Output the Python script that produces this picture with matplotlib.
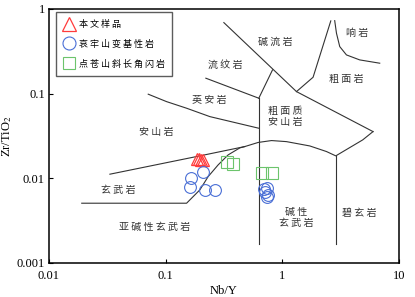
import numpy as np
import matplotlib
matplotlib.use('Agg')
import matplotlib.pyplot as plt

plt.rcParams['font.family'] = ['Liberation Serif', 'DejaVu Serif']
plt.rcParams['mathtext.fontset'] = 'stix'

# 样品数据 (Nb/Y, Zr/TiO2)
tri_x = [0.185, 0.195, 0.201, 0.209]
tri_y = [0.0167, 0.0169, 0.0165, 0.0166]

cir_x = [0.165, 0.209, 0.162, 0.217, 0.265, 0.734, 0.710, 0.757, 0.734, 0.700]
cir_y = [0.0101, 0.0119, 0.0079, 0.0073, 0.0073, 0.00764, 0.00697, 0.00637, 0.00608, 0.0074]

sq_x = [0.333, 0.380, 0.665, 0.810]
sq_y = [0.01575, 0.0148, 0.0115, 0.0115]

legend_names = ['本文样品', '哀牢山变基性岩', '点苍山斜长角闪岩']

# 分区边界 (Winchester & Floyd, 1977)
bounds = [
    # 亚碱性玄武岩 / 碱性玄武岩
    ([0.0191, 0.1514, 0.1967, 0.2317, 0.2823, 0.344, 0.433, 0.478],
     [0.00508, 0.00508, 0.0073, 0.01047, 0.0144, 0.0189, 0.02285, 0.0237]),
    # 安山岩 / 玄武岩 -> 粗面质安山岩 / 碱性玄武岩
    ([0.0333, 0.1967, 0.478, 0.622, 0.81, 1.088, 1.724, 2.397, 2.88, 4.90, 6.01],
     [0.01118, 0.0184, 0.0237, 0.0265, 0.0279, 0.0271, 0.0241, 0.0207, 0.0184, 0.0284, 0.0356]),
    # 粗面质安山岩 / 粗面岩 -> 碱流岩
    ([6.01, 1.326, 0.316], [0.0356, 0.1056, 0.689]),
    # 碧玄岩 / 碱性玄武岩
    ([2.88, 2.88], [0.0184, 0.00168]),
    # 碱性玄武岩 / 亚碱性玄武岩
    ([0.63, 0.63], [0.0882, 0.00168]),
    # 粗面岩 / 碱流岩
    ([1.326, 1.84, 2.61], [0.1056, 0.156, 0.722]),
    # 响岩
    ([2.82, 2.92, 3.115, 3.556, 4.62, 6.86], [0.727, 0.5165, 0.3589, 0.2863, 0.250, 0.2285]),
    # 粗面质安山岩 / 流纹岩
    ([0.826, 0.63], [0.1905, 0.0882]),
    # 流纹岩 / 英安岩
    ([0.2215, 0.63], [0.152, 0.0882]),
    # 英安岩 / 安山岩
    ([0.071, 0.102, 0.1514, 0.2397, 0.63], [0.0984, 0.0804, 0.0672, 0.0535, 0.039]),
]

labels = [
    ('碱流岩', 0.864, 0.407), ('响岩', 4.36, 0.516), ('流纹岩', 0.322, 0.218),
    ('粗面岩', 3.556, 0.148), ('英安岩', 0.235, 0.0842), ('粗面质\n安山岩', 1.053, 0.0531),
    ('安山岩', 0.0837, 0.0356), ('玄武岩', 0.039, 0.0073), ('亚碱性玄武岩', 0.081, 0.00269),
    ('碱性\n玄武岩', 1.326, 0.00345), ('碧玄岩', 4.56, 0.00387),
]


def spaced(s):
    # 字间留空, 模仿原图的字距
    return '\n'.join(' '.join(line) for line in s.split('\n'))


fig = plt.figure(figsize=(4.15, 2.97), dpi=100)
ax = fig.add_axes([0.118, 0.1145, 0.843, 0.8555])
ax.set_xscale('log')
ax.set_yscale('log')
ax.set_xlim(0.01, 10)
ax.set_ylim(0.001, 1)

for bx, by in bounds:
    ax.plot(bx, by, color='#333333', lw=0.8, zorder=2)

cjk = ['Noto Sans CJK SC', 'DejaVu Sans']
for txt, lx, ly in labels:
    ax.text(lx, ly, spaced(txt), family=cjk, fontsize=7.2, color='#333333',
            ha='center', va='center', linespacing=1.1)

ax.plot(tri_x, tri_y, ls='none', marker='^', ms=9, mfc='none', mec='#ff3b3b',
        mew=0.9, label=spaced(legend_names[0]), zorder=3)
ax.plot(cir_x, cir_y, ls='none', marker='o', ms=8.5, mfc='none', mec='#4a6fd6',
        mew=0.8, label=spaced(legend_names[1]), zorder=3)
ax.plot(sq_x, sq_y, ls='none', marker='s', ms=8.5, mfc='none', mec='#6cc46c',
        mew=0.8, label=spaced(legend_names[2]), zorder=3)

leg = ax.legend(loc='upper left', bbox_to_anchor=(0.02, 0.986), borderaxespad=0,
                prop={'family': cjk, 'size': 6.5}, frameon=True,
                fancybox=False, edgecolor='#333333',
                handletextpad=0.4, handlelength=1.3, labelspacing=1.2,
                borderpad=0.8, markerscale=1.1)
leg.get_frame().set_linewidth(1.0)

ax.minorticks_off()
ax.set_xticks([0.01, 0.1, 1, 10])
ax.set_xticklabels(['0.01', '0.1', '1', '10'])
ax.set_yticks([0.001, 0.01, 0.1, 1])
ax.set_yticklabels(['0.001', '0.01', '0.1', '1'])
ax.tick_params(direction='in', length=3, width=0.8, labelsize=9)
ax.tick_params(axis='x', pad=5)
ax.tick_params(axis='y', pad=3)
for s in ax.spines.values():
    s.set_linewidth(1.1)

ax.set_xlabel('Nb/Y', fontsize=9, labelpad=2)
ax.set_ylabel('Zr/TiO$_2$', fontsize=9)
ax.yaxis.set_label_coords(-0.1, 0.5)

fig.savefig('out.png', dpi=100)
